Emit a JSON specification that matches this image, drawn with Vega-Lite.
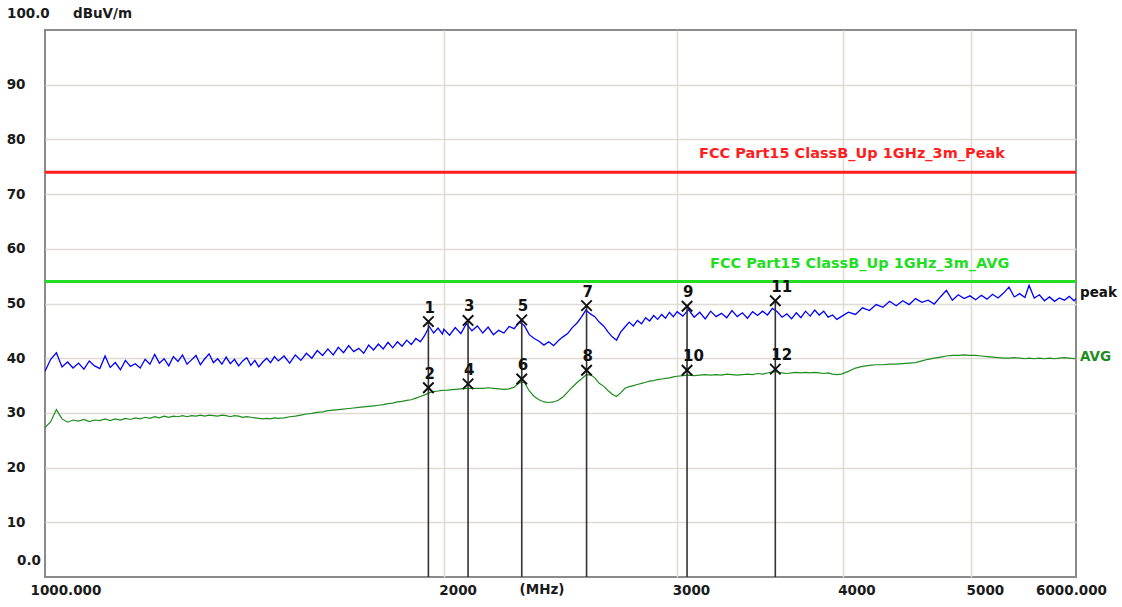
{
  "$schema": "https://vega.github.io/schema/vega-lite/v6.json",
  "width": 1031,
  "height": 547,
  "autosize": "none",
  "padding": {"left": 45, "top": 30, "right": 46, "bottom": 30},
  "background": "white",
  "config": {"view": {"stroke": "#8a8a8a", "strokeWidth": 2}, "font": "DejaVu Sans", "text": {"font": "DejaVu Sans"}},
  "datasets": {
    "trace": [
      {"f":1000,"p":37.6,"a":27.3},{"f":1010,"p":39.8,"a":28.4},{"f":1020,"p":41.0,"a":30.6},{"f":1030,"p":38.4,"a":28.9},
      {"f":1040,"p":39.3,"a":28.3},{"f":1050,"p":38.2,"a":28.7},{"f":1060,"p":39.1,"a":28.5},{"f":1070,"p":38.0,"a":28.8},
      {"f":1080,"p":39.5,"a":28.4},{"f":1090,"p":38.6,"a":28.7},{"f":1100,"p":38.1,"a":28.6},{"f":1110,"p":40.4,"a":28.9},
      {"f":1120,"p":38.3,"a":28.6},{"f":1130,"p":39.2,"a":28.9},{"f":1140,"p":37.9,"a":28.7},{"f":1150,"p":39.6,"a":29.0},
      {"f":1160,"p":38.5,"a":28.8},{"f":1170,"p":39.0,"a":29.1},{"f":1180,"p":38.2,"a":28.9},{"f":1190,"p":39.8,"a":29.2},
      {"f":1200,"p":38.9,"a":29.0},{"f":1210,"p":40.7,"a":29.3},{"f":1220,"p":39.1,"a":29.1},{"f":1230,"p":39.9,"a":29.4},
      {"f":1240,"p":38.6,"a":29.2},{"f":1250,"p":40.3,"a":29.4},{"f":1260,"p":39.4,"a":29.3},{"f":1270,"p":40.6,"a":29.5},
      {"f":1280,"p":38.9,"a":29.3},{"f":1290,"p":39.7,"a":29.5},{"f":1300,"p":40.5,"a":29.4},{"f":1310,"p":38.8,"a":29.6},
      {"f":1320,"p":39.9,"a":29.4},{"f":1330,"p":40.8,"a":29.6},{"f":1340,"p":39.2,"a":29.5},{"f":1350,"p":39.9,"a":29.4},
      {"f":1360,"p":38.9,"a":29.6},{"f":1370,"p":40.2,"a":29.5},{"f":1380,"p":39.0,"a":29.3},{"f":1390,"p":39.8,"a":29.5},
      {"f":1400,"p":38.6,"a":29.4},{"f":1410,"p":39.5,"a":29.2},{"f":1420,"p":40.1,"a":29.3},{"f":1430,"p":38.7,"a":29.2},
      {"f":1440,"p":39.6,"a":29.1},{"f":1450,"p":38.4,"a":29.0},{"f":1460,"p":39.3,"a":28.9},{"f":1470,"p":40.0,"a":29.0},
      {"f":1480,"p":39.2,"a":28.9},{"f":1490,"p":40.3,"a":29.1},{"f":1500,"p":39.5,"a":29.0},
      {"f":1515,"p":40.4,"a":29.1},{"f":1530,"p":39.1,"a":29.3},{"f":1545,"p":40.6,"a":29.4},{"f":1560,"p":39.6,"a":29.6},
      {"f":1575,"p":40.9,"a":29.8},{"f":1590,"p":40.0,"a":29.9},{"f":1605,"p":41.4,"a":30.1},{"f":1620,"p":40.5,"a":30.2},
      {"f":1635,"p":41.7,"a":30.4},{"f":1650,"p":40.6,"a":30.5},{"f":1665,"p":42.0,"a":30.6},{"f":1680,"p":41.0,"a":30.7},
      {"f":1695,"p":42.3,"a":30.8},{"f":1710,"p":41.2,"a":30.9},{"f":1725,"p":41.8,"a":31.0},{"f":1740,"p":40.9,"a":31.1},
      {"f":1755,"p":42.4,"a":31.2},{"f":1770,"p":41.5,"a":31.3},{"f":1785,"p":42.6,"a":31.4},{"f":1800,"p":41.7,"a":31.5},
      {"f":1815,"p":42.9,"a":31.7},{"f":1830,"p":41.9,"a":31.8},{"f":1845,"p":43.0,"a":32.0},{"f":1860,"p":42.2,"a":32.1},
      {"f":1875,"p":43.3,"a":32.3},{"f":1890,"p":42.5,"a":32.4},{"f":1905,"p":43.6,"a":32.7},{"f":1920,"p":43.0,"a":33.0},
      {"f":1935,"p":44.2,"a":33.3},{"f":1950,"p":45.8,"a":33.7},{"f":1965,"p":44.6,"a":33.9},{"f":1980,"p":45.5,"a":34.0},
      {"f":1995,"p":44.4,"a":34.1},
      {"f":2000,"p":45.3,"a":34.1},{"f":2020,"p":44.2,"a":34.2},{"f":2040,"p":45.6,"a":34.3},{"f":2060,"p":44.5,"a":34.4},
      {"f":2080,"p":46.3,"a":34.5},{"f":2100,"p":45.0,"a":34.5},{"f":2120,"p":45.9,"a":34.5},{"f":2140,"p":44.6,"a":34.5},
      {"f":2160,"p":45.7,"a":34.6},{"f":2180,"p":44.3,"a":34.5},{"f":2200,"p":45.1,"a":34.4},{"f":2220,"p":44.6,"a":34.3},
      {"f":2240,"p":45.8,"a":34.4},{"f":2260,"p":45.4,"a":34.7},{"f":2280,"p":46.6,"a":35.5},{"f":2300,"p":46.0,"a":35.6},
      {"f":2320,"p":44.3,"a":34.0},{"f":2340,"p":43.6,"a":33.0},{"f":2360,"p":43.1,"a":32.4},{"f":2380,"p":42.4,"a":32.0},
      {"f":2400,"p":43.0,"a":31.9},{"f":2420,"p":42.3,"a":32.0},{"f":2440,"p":43.2,"a":32.3},{"f":2460,"p":43.9,"a":32.9},
      {"f":2480,"p":44.5,"a":33.8},{"f":2500,"p":45.6,"a":34.7},{"f":2520,"p":46.4,"a":35.5},{"f":2540,"p":47.5,"a":36.2},
      {"f":2560,"p":48.8,"a":36.9},{"f":2580,"p":48.1,"a":37.0},{"f":2600,"p":47.6,"a":36.4},{"f":2620,"p":46.6,"a":35.4},
      {"f":2640,"p":45.9,"a":34.9},{"f":2660,"p":44.8,"a":34.1},{"f":2680,"p":43.9,"a":33.4},{"f":2700,"p":43.3,"a":33.0},
      {"f":2720,"p":44.8,"a":33.7},{"f":2740,"p":45.7,"a":34.5},{"f":2760,"p":46.6,"a":34.8},{"f":2780,"p":45.9,"a":35.0},
      {"f":2800,"p":46.9,"a":35.2},{"f":2820,"p":46.3,"a":35.4},{"f":2840,"p":47.4,"a":35.6},{"f":2860,"p":46.8,"a":35.8},
      {"f":2880,"p":47.8,"a":35.9},{"f":2900,"p":47.1,"a":36.1},{"f":2920,"p":48.0,"a":36.2},{"f":2940,"p":47.3,"a":36.3},
      {"f":2960,"p":48.4,"a":36.4},{"f":2980,"p":47.6,"a":36.6},{"f":3000,"p":48.5,"a":36.7},
      {"f":3030,"p":47.7,"a":36.8},{"f":3060,"p":48.9,"a":36.9},{"f":3090,"p":47.5,"a":36.8},{"f":3120,"p":48.4,"a":36.9},
      {"f":3150,"p":47.2,"a":37.0},{"f":3180,"p":48.6,"a":36.9},{"f":3210,"p":47.6,"a":37.0},{"f":3240,"p":48.2,"a":36.9},
      {"f":3270,"p":47.4,"a":37.1},{"f":3300,"p":48.7,"a":37.0},{"f":3330,"p":47.6,"a":36.9},{"f":3360,"p":48.3,"a":37.0},
      {"f":3390,"p":47.3,"a":37.1},{"f":3420,"p":48.5,"a":37.0},{"f":3450,"p":47.8,"a":37.2},{"f":3480,"p":48.6,"a":37.1},
      {"f":3510,"p":47.9,"a":37.3},{"f":3540,"p":49.1,"a":37.5},{"f":3570,"p":48.5,"a":37.5},{"f":3600,"p":47.5,"a":37.3},
      {"f":3630,"p":48.1,"a":37.2},{"f":3660,"p":47.2,"a":37.3},{"f":3690,"p":48.3,"a":37.4},{"f":3720,"p":47.4,"a":37.3},
      {"f":3750,"p":48.6,"a":37.4},{"f":3780,"p":47.7,"a":37.3},{"f":3810,"p":48.8,"a":37.4},{"f":3840,"p":47.9,"a":37.3},
      {"f":3870,"p":48.6,"a":37.2},{"f":3900,"p":47.5,"a":37.3},{"f":3930,"p":47.9,"a":37.1},{"f":3960,"p":47.1,"a":37.0},
      {"f":3990,"p":47.6,"a":37.1},
      {"f":4040,"p":48.4,"a":37.6},{"f":4090,"p":48.0,"a":38.2},{"f":4140,"p":49.2,"a":38.5},{"f":4190,"p":48.7,"a":38.7},
      {"f":4240,"p":49.8,"a":38.8},{"f":4290,"p":49.3,"a":38.8},{"f":4340,"p":50.4,"a":38.9},{"f":4390,"p":49.6,"a":38.9},
      {"f":4440,"p":50.5,"a":39.0},{"f":4490,"p":49.8,"a":39.1},{"f":4540,"p":50.9,"a":39.2},{"f":4590,"p":50.2,"a":39.5},
      {"f":4640,"p":50.6,"a":39.8},{"f":4690,"p":49.9,"a":40.0},{"f":4740,"p":51.2,"a":40.2},{"f":4790,"p":52.4,"a":40.4},
      {"f":4840,"p":50.6,"a":40.5},{"f":4890,"p":51.6,"a":40.5},{"f":4940,"p":50.9,"a":40.6},{"f":4990,"p":51.4,"a":40.5},
      {"f":5040,"p":50.7,"a":40.5},{"f":5090,"p":51.5,"a":40.4},{"f":5140,"p":50.8,"a":40.3},{"f":5190,"p":51.7,"a":40.2},
      {"f":5240,"p":51.0,"a":40.1},{"f":5290,"p":51.9,"a":40.0},{"f":5340,"p":53.0,"a":40.0},{"f":5390,"p":51.2,"a":40.1},
      {"f":5440,"p":51.8,"a":40.0},{"f":5490,"p":51.1,"a":39.9},{"f":5530,"p":53.3,"a":40.0},{"f":5580,"p":51.0,"a":39.9},
      {"f":5630,"p":51.6,"a":40.0},{"f":5680,"p":50.5,"a":39.9},{"f":5730,"p":51.2,"a":40.0},{"f":5780,"p":50.4,"a":39.9},
      {"f":5830,"p":51.0,"a":40.0},{"f":5880,"p":50.6,"a":40.1},{"f":5930,"p":51.3,"a":40.0},{"f":5980,"p":50.5,"a":39.9},
      {"f":6000,"p":50.9,"a":40.0}
    ],
    "markers": [
      {"n":"1","f":1947,"v":46.7,"det":"peak"},{"n":"2","f":1947,"v":34.6,"det":"avg"},
      {"n":"3","f":2086,"v":46.9,"det":"peak"},{"n":"4","f":2086,"v":35.3,"det":"avg"},
      {"n":"5","f":2290,"v":47.0,"det":"peak"},{"n":"6","f":2290,"v":36.2,"det":"avg"},
      {"n":"7","f":2563,"v":49.6,"det":"peak"},{"n":"8","f":2563,"v":37.8,"det":"avg"},
      {"n":"9","f":3052,"v":49.5,"det":"peak"},{"n":"10","f":3052,"v":37.8,"det":"avg"},
      {"n":"11","f":3558,"v":50.5,"det":"peak"},{"n":"12","f":3558,"v":38.0,"det":"avg"}
    ],
    "limits": [
      {"name":"FCC Part15 ClassB_Up 1GHz_3m_Peak","v":74,"k":"peak"},
      {"name":"FCC Part15 ClassB_Up 1GHz_3m_AVG","v":54,"k":"avg"}
    ],
    "tags": [
      {"t":"peak","v":51.95,"k":"peak"},
      {"t":"AVG","v":40.3,"k":"avg"}
    ]
  },
  "layer": [
    {
      "data": {"name": "trace"},
      "mark": {"type": "line", "color": "#0000ff", "strokeWidth": 1.3, "clip": true},
      "encoding": {
        "x": {"field": "f", "type": "quantitative",
          "scale": {"type": "log", "domain": [1000, 6000], "nice": false},
          "axis": {"values": [1000, 2000, 3000, 4000, 5000, 6000], "title": null, "domain": false, "ticks": false, "tickSize": 0,
            "grid": true, "gridWidth": 1.5,
            "gridColor": {"condition": {"test": "datum.value == 1000 || datum.value == 6000", "value": "rgba(0,0,0,0)"}, "value": "#dedbd3"},
            "labelExpr": "datum.value == 1000 ? '1000.000' : datum.value == 6000 ? '6000.000' : format(datum.value, 'd')",
            "labelFont": "DejaVu Sans", "labelFontWeight": "bold", "labelFontSize": 13.5, "labelColor": "#1a1a1a",
            "labelAlign": {"condition": {"test": "datum.value == 6000", "value": "center"}, "value": "left"},
            "labelBaseline": "middle", "labelPadding": 13, "labelFlush": false, "labelOverlap": false,
            "labelOffset": {"condition": {"test": "datum.value == 1000", "value": -15}, "value": -5}}},
        "y": {"field": "p", "type": "quantitative",
          "scale": {"domain": [0, 100], "nice": false},
          "axis": {"values": [10, 20, 30, 40, 50, 60, 70, 80, 90], "title": null, "domain": false, "ticks": false, "tickSize": 0,
            "grid": true, "gridWidth": 1.5, "gridColor": "#dedbd3",
            "labelFont": "DejaVu Sans", "labelFontWeight": "bold", "labelFontSize": 13.5, "labelColor": "#1a1a1a",
            "labelAlign": "right", "labelBaseline": "middle", "labelPadding": 20}}
      }
    },
    {
      "data": {"name": "trace"},
      "mark": {"type": "line", "color": "#1e8c1e", "strokeWidth": 1.2, "clip": true},
      "encoding": {
        "x": {"field": "f", "type": "quantitative"},
        "y": {"field": "a", "type": "quantitative"}
      }
    },
    {
      "data": {"name": "limits"},
      "transform": [{"filter": "datum.k == 'peak'"}],
      "mark": {"type": "rule", "strokeWidth": 3, "color": "#ff1e1e"},
      "encoding": {
        "y": {"field": "v", "type": "quantitative"}
      }
    },
    {
      "data": {"name": "limits"},
      "transform": [{"filter": "datum.k == 'avg'"}],
      "mark": {"type": "rule", "strokeWidth": 3, "color": "#22dd22"},
      "encoding": {
        "y": {"field": "v", "type": "quantitative"}
      }
    },
    {
      "data": {"name": "limits"},
      "transform": [{"filter": "datum.k == 'peak'"}],
      "mark": {"type": "text", "font": "DejaVu Sans", "fontWeight": "bold", "fontSize": 14.5, "align": "center", "baseline": "middle", "dy": -18, "color": "#ff1e1e"},
      "encoding": {
        "x": {"datum": 4065, "type": "quantitative"},
        "y": {"field": "v", "type": "quantitative"},
        "text": {"field": "name"}
      }
    },
    {
      "data": {"name": "limits"},
      "transform": [{"filter": "datum.k == 'avg'"}],
      "mark": {"type": "text", "font": "DejaVu Sans", "fontWeight": "bold", "fontSize": 14.5, "align": "center", "baseline": "middle", "dy": -18, "color": "#22dd22"},
      "encoding": {
        "x": {"datum": 4120, "type": "quantitative"},
        "y": {"field": "v", "type": "quantitative"},
        "text": {"field": "name"}
      }
    },
    {
      "data": {"name": "markers"},
      "transform": [{"filter": "datum.det == 'peak'"}],
      "mark": {"type": "rule", "color": "#333333", "strokeWidth": 1.6},
      "encoding": {
        "x": {"field": "f", "type": "quantitative"},
        "y": {"field": "v", "type": "quantitative"},
        "y2": {"datum": 0}
      }
    },
    {
      "data": {"name": "markers"},
      "mark": {"type": "point", "shape": "M-1,-1L1,1M-1,1L1,-1", "size": 110, "filled": false, "stroke": "#111111", "strokeWidth": 1.9, "opacity": 1},
      "encoding": {
        "x": {"field": "f", "type": "quantitative"},
        "y": {"field": "v", "type": "quantitative"}
      }
    },
    {
      "data": {"name": "markers"},
      "mark": {"type": "text", "font": "DejaVu Sans", "fontWeight": "bold", "fontSize": 15, "align": "left", "baseline": "middle", "dx": -4, "dy": -14, "color": "#111111"},
      "encoding": {
        "x": {"field": "f", "type": "quantitative"},
        "y": {"field": "v", "type": "quantitative"},
        "text": {"field": "n"}
      }
    },
    {
      "data": {"name": "tags"},
      "transform": [{"filter": "datum.k == 'peak'"}],
      "mark": {"type": "text", "font": "DejaVu Sans", "fontWeight": "bold", "fontSize": 13.5, "align": "left", "baseline": "middle", "dx": 4, "color": "#111111"},
      "encoding": {
        "x": {"datum": 6000, "type": "quantitative"},
        "y": {"field": "v", "type": "quantitative"},
        "text": {"field": "t"}
      }
    },
    {
      "data": {"name": "tags"},
      "transform": [{"filter": "datum.k == 'avg'"}],
      "mark": {"type": "text", "font": "DejaVu Sans", "fontWeight": "bold", "fontSize": 13.5, "align": "left", "baseline": "middle", "dx": 4, "color": "#1e8c1e"},
      "encoding": {
        "x": {"datum": 6000, "type": "quantitative"},
        "y": {"field": "v", "type": "quantitative"},
        "text": {"field": "t"}
      }
    },
    {
      "data": {"values": [{"t": "0.0"}]},
      "mark": {"type": "text", "font": "DejaVu Sans", "fontWeight": "bold", "fontSize": 13.5, "align": "right", "baseline": "middle", "dx": -4, "dy": -16, "color": "#1a1a1a"},
      "encoding": {
        "x": {"datum": 1000, "type": "quantitative"},
        "y": {"datum": 0, "type": "quantitative"},
        "text": {"field": "t"}
      }
    },
    {
      "data": {"values": [{"t": "100.0"}]},
      "mark": {"type": "text", "font": "DejaVu Sans", "fontWeight": "bold", "fontSize": 13.5, "align": "left", "baseline": "middle", "dx": -38, "dy": -16, "color": "#1a1a1a"},
      "encoding": {
        "x": {"datum": 1000, "type": "quantitative"},
        "y": {"datum": 100, "type": "quantitative"},
        "text": {"field": "t"}
      }
    },
    {
      "data": {"values": [{"t": "dBuV/m"}]},
      "mark": {"type": "text", "font": "DejaVu Sans", "fontWeight": "bold", "fontSize": 13.5, "align": "left", "baseline": "middle", "dx": 28, "dy": -16, "color": "#1a1a1a"},
      "encoding": {
        "x": {"datum": 1000, "type": "quantitative"},
        "y": {"datum": 100, "type": "quantitative"},
        "text": {"field": "t"}
      }
    },
    {
      "data": {"values": [{"t": "(MHz)"}]},
      "mark": {"type": "text", "font": "DejaVu Sans", "fontWeight": "bold", "fontSize": 13.5, "align": "center", "baseline": "middle", "dy": 13, "color": "#1a1a1a"},
      "encoding": {
        "x": {"datum": 2372, "type": "quantitative"},
        "y": {"datum": 0, "type": "quantitative"},
        "text": {"field": "t"}
      }
    }
  ]
}
